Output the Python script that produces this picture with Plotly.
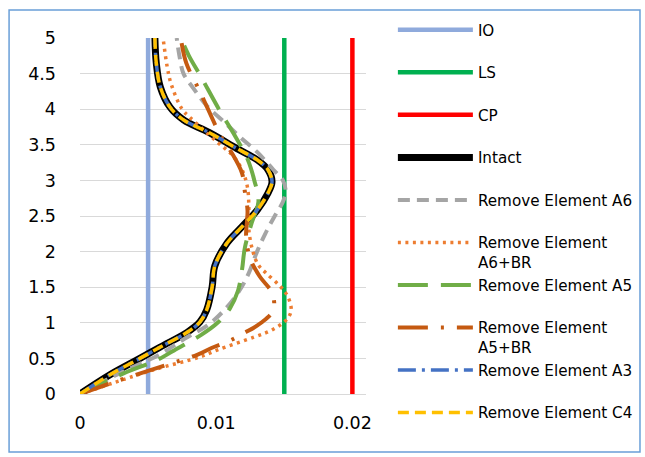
import plotly.graph_objects as go

# ---- data (drift ratio x, storey level y) ----
storey_range = [0, 5]
limit_io = [0.005, 0.005]
limit_ls = [0.015, 0.015]
limit_cp = [0.02, 0.02]
limit_y = [0, 5]

intact_y = [0, 0.27, 0.5, 0.66, 0.87, 1.01, 1.18, 1.5, 1.8, 2.12, 2.35, 2.58, 2.82, 2.98, 3.15, 3.29, 3.45, 3.67, 3.85, 4.03, 4.31, 4.65, 5]
intact_x = [0, 0.0022, 0.0044, 0.0059, 0.0079, 0.0088, 0.0093, 0.0097, 0.0099, 0.0108, 0.0119, 0.013, 0.0138, 0.0141, 0.0138, 0.013, 0.0115, 0.0095, 0.0076, 0.0066, 0.0059, 0.0056, 0.0055]

a6_y = [0, 0.3, 0.55, 0.78, 0.97, 1.2, 1.45, 1.7, 2.0, 2.25, 2.5, 2.7, 2.85, 3.0, 3.15, 3.4, 3.6, 3.8, 4.05, 4.3, 4.5, 4.75, 5]
a6_x = [0, 0.003, 0.0058, 0.0077, 0.0094, 0.0107, 0.0117, 0.0124, 0.013, 0.0136, 0.0143, 0.0149, 0.0151, 0.0149, 0.0142, 0.013, 0.0118, 0.0107, 0.0093, 0.0083, 0.0076, 0.0073, 0.0071]

a6br_y = [0, 0.21, 0.34, 0.52, 0.62, 0.8, 0.9, 1.05, 1.17, 1.3, 1.42, 1.53, 1.71, 1.81, 2.0, 2.3, 2.6, 2.9, 3.15, 3.35, 3.55, 3.88, 4.0, 4.35, 4.6, 5]
a6br_x = [0, 0.0033, 0.0054, 0.0088, 0.0101, 0.0128, 0.0141, 0.0152, 0.0155, 0.0154, 0.0151, 0.0146, 0.0136, 0.0131, 0.0127, 0.0124, 0.0124, 0.0123, 0.0119, 0.0112, 0.01, 0.0081, 0.0075, 0.0067, 0.0064, 0.0061]

a5_y = [0, 0.29, 0.48, 0.6, 0.83, 1.0, 1.2, 1.45, 1.75, 2.05, 2.4, 2.7, 3.0, 3.3, 3.65, 4.0, 4.45, 4.75, 5]
a5_x = [0, 0.0032, 0.0057, 0.0068, 0.0089, 0.0101, 0.011, 0.0116, 0.0119, 0.0121, 0.0126, 0.0131, 0.0128, 0.0123, 0.0113, 0.0102, 0.0089, 0.008, 0.0074]

a5br_y = [0, 0.2, 0.4, 0.55, 0.65, 0.75, 0.86, 1.0, 1.18, 1.42, 1.65, 1.9, 2.2, 2.58, 2.85, 3.1, 3.4, 3.6, 4.0, 4.25, 4.65, 5]
a5br_x = [0, 0.003, 0.0062, 0.0086, 0.0097, 0.011, 0.0121, 0.0133, 0.0142, 0.0141, 0.0132, 0.0125, 0.0122, 0.0123, 0.0121, 0.0119, 0.0111, 0.0104, 0.0094, 0.0088, 0.0078, 0.0074]

a3_y = [0, 0.27, 0.5, 0.66, 0.87, 1.01, 1.18, 1.5, 1.8, 2.12, 2.35, 2.58, 2.82, 2.98, 3.15, 3.29, 3.45, 3.67, 3.85, 4.03, 4.31, 4.65, 5]
a3_x = [0, 0.0022, 0.0044, 0.0059, 0.0079, 0.0088, 0.0093, 0.0097, 0.0099, 0.0108, 0.0119, 0.013, 0.0138, 0.0141, 0.0138, 0.013, 0.0115, 0.0095, 0.0076, 0.0066, 0.0059, 0.0056, 0.0055]

c4_y = [0, 0.27, 0.5, 0.66, 0.87, 1.01, 1.18, 1.5, 1.8, 2.12, 2.35, 2.58, 2.82, 2.98, 3.15, 3.29, 3.45, 3.67, 3.85, 4.03, 4.31, 4.65, 5]
c4_x = [0, 0.0022, 0.0044, 0.0059, 0.0079, 0.0088, 0.0093, 0.0097, 0.0099, 0.0108, 0.0119, 0.013, 0.0138, 0.0141, 0.0138, 0.013, 0.0115, 0.0095, 0.0076, 0.0066, 0.0059, 0.0056, 0.0055]

x_ticks = [0, 0.01, 0.02]
x_ticktext = ["0", "0.01", "0.02"]
y_ticks = [0, 0.5, 1, 1.5, 2, 2.5, 3, 3.5, 4, 4.5, 5]
y_ticktext = ["0", "0.5", "1", "1.5", "2", "2.5", "3", "3.5", "4", "4.5", "5"]

FONT = "DejaVu Sans"
PAD = "<br>&nbsp;"

fig = go.Figure()

def add(x, y, name, color, width, dash="solid", spline=True):
    fig.add_trace(go.Scatter(
        x=x, y=y, mode="lines", name=name,
        line=dict(color=color, width=width, dash=dash,
                  shape="spline" if spline else "linear", smoothing=1.0),
        hoverinfo="skip"))

add(limit_io, limit_y, "IO" + PAD, "#8FAADC", 4.5, spline=False)
add(limit_ls, limit_y, "LS" + PAD, "#00B050", 4.5, spline=False)
add(limit_cp, limit_y, "CP" + PAD, "#FF0000", 4.5, spline=False)
add(intact_x, intact_y, "Intact" + PAD, "#000000", 7)
add(a6_x, a6_y, "Remove Element A6" + PAD, "#A5A5A5", 4, "12px,7px")
add(a6br_x, a6br_y, "Remove Element<br>A6+BR", "#ED7D31", 3.5, "3px,4.5px")
add(a5_x, a5_y, "Remove Element A5" + PAD, "#70AD47", 4, "30px,13px")
add(a5br_x, a5br_y, "Remove Element<br>A5+BR", "#C55A11", 4, "30px,13px,3px,13px")
add(a3_x, a3_y, "Remove Element A3" + PAD, "#4472C4", 3.5, "18px,6px,3px,6px")
add(c4_x, c4_y, "Remove Element C4" + PAD, "#FFC000", 3.5, "11px,6px")

fig.update_layout(
    template="none",
    width=645, height=457,
    margin=dict(l=80, r=279, t=38, b=63, autoexpand=False),
    paper_bgcolor="white", plot_bgcolor="white",
    font=dict(family=FONT, color="#000000"),
    showlegend=True,
    legend=dict(
        x=1.094, xanchor="left", y=1.069, yanchor="top",
        font=dict(family=FONT, size=15.2, color="#000000"),
        itemwidth=75, valign="top", tracegroupgap=0,
        bgcolor="rgba(0,0,0,0)", borderwidth=0,
        maxheight=1.0,
        itemclick=False, itemdoubleclick=False,
    ),
    xaxis=dict(
        range=[0, 0.021], tickmode="array", tickvals=x_ticks, ticktext=x_ticktext,
        showgrid=False, zeroline=False, showline=True, linecolor="#D9D9D9", linewidth=1,
        ticks="", tickfont=dict(family=FONT, size=17.5, color="#000000"),
        ticklabelstandoff=13, automargin=False,
    ),
    yaxis=dict(
        range=storey_range, tickmode="array", tickvals=y_ticks, ticktext=y_ticktext,
        showgrid=True, gridcolor="#D9D9D9", gridwidth=1,
        zeroline=False, showline=False, ticks="",
        tickfont=dict(family=FONT, size=17.5, color="#000000"),
        ticklabelstandoff=23, automargin=False,
    ),
    shapes=[dict(
        type="rect", xref="paper", yref="paper",
        x0=-0.248, x1=1.958, y0=-0.163, y1=1.0787,
        line=dict(color="#6A9FD8", width=1.5), fillcolor="rgba(0,0,0,0)", layer="below",
    )],
)

fig.write_html(
    "out.html",
    config={"displayModeBar": False, "staticPlot": True},
    post_script="document.body.style.margin='0';document.body.style.overflow='hidden';",
)
